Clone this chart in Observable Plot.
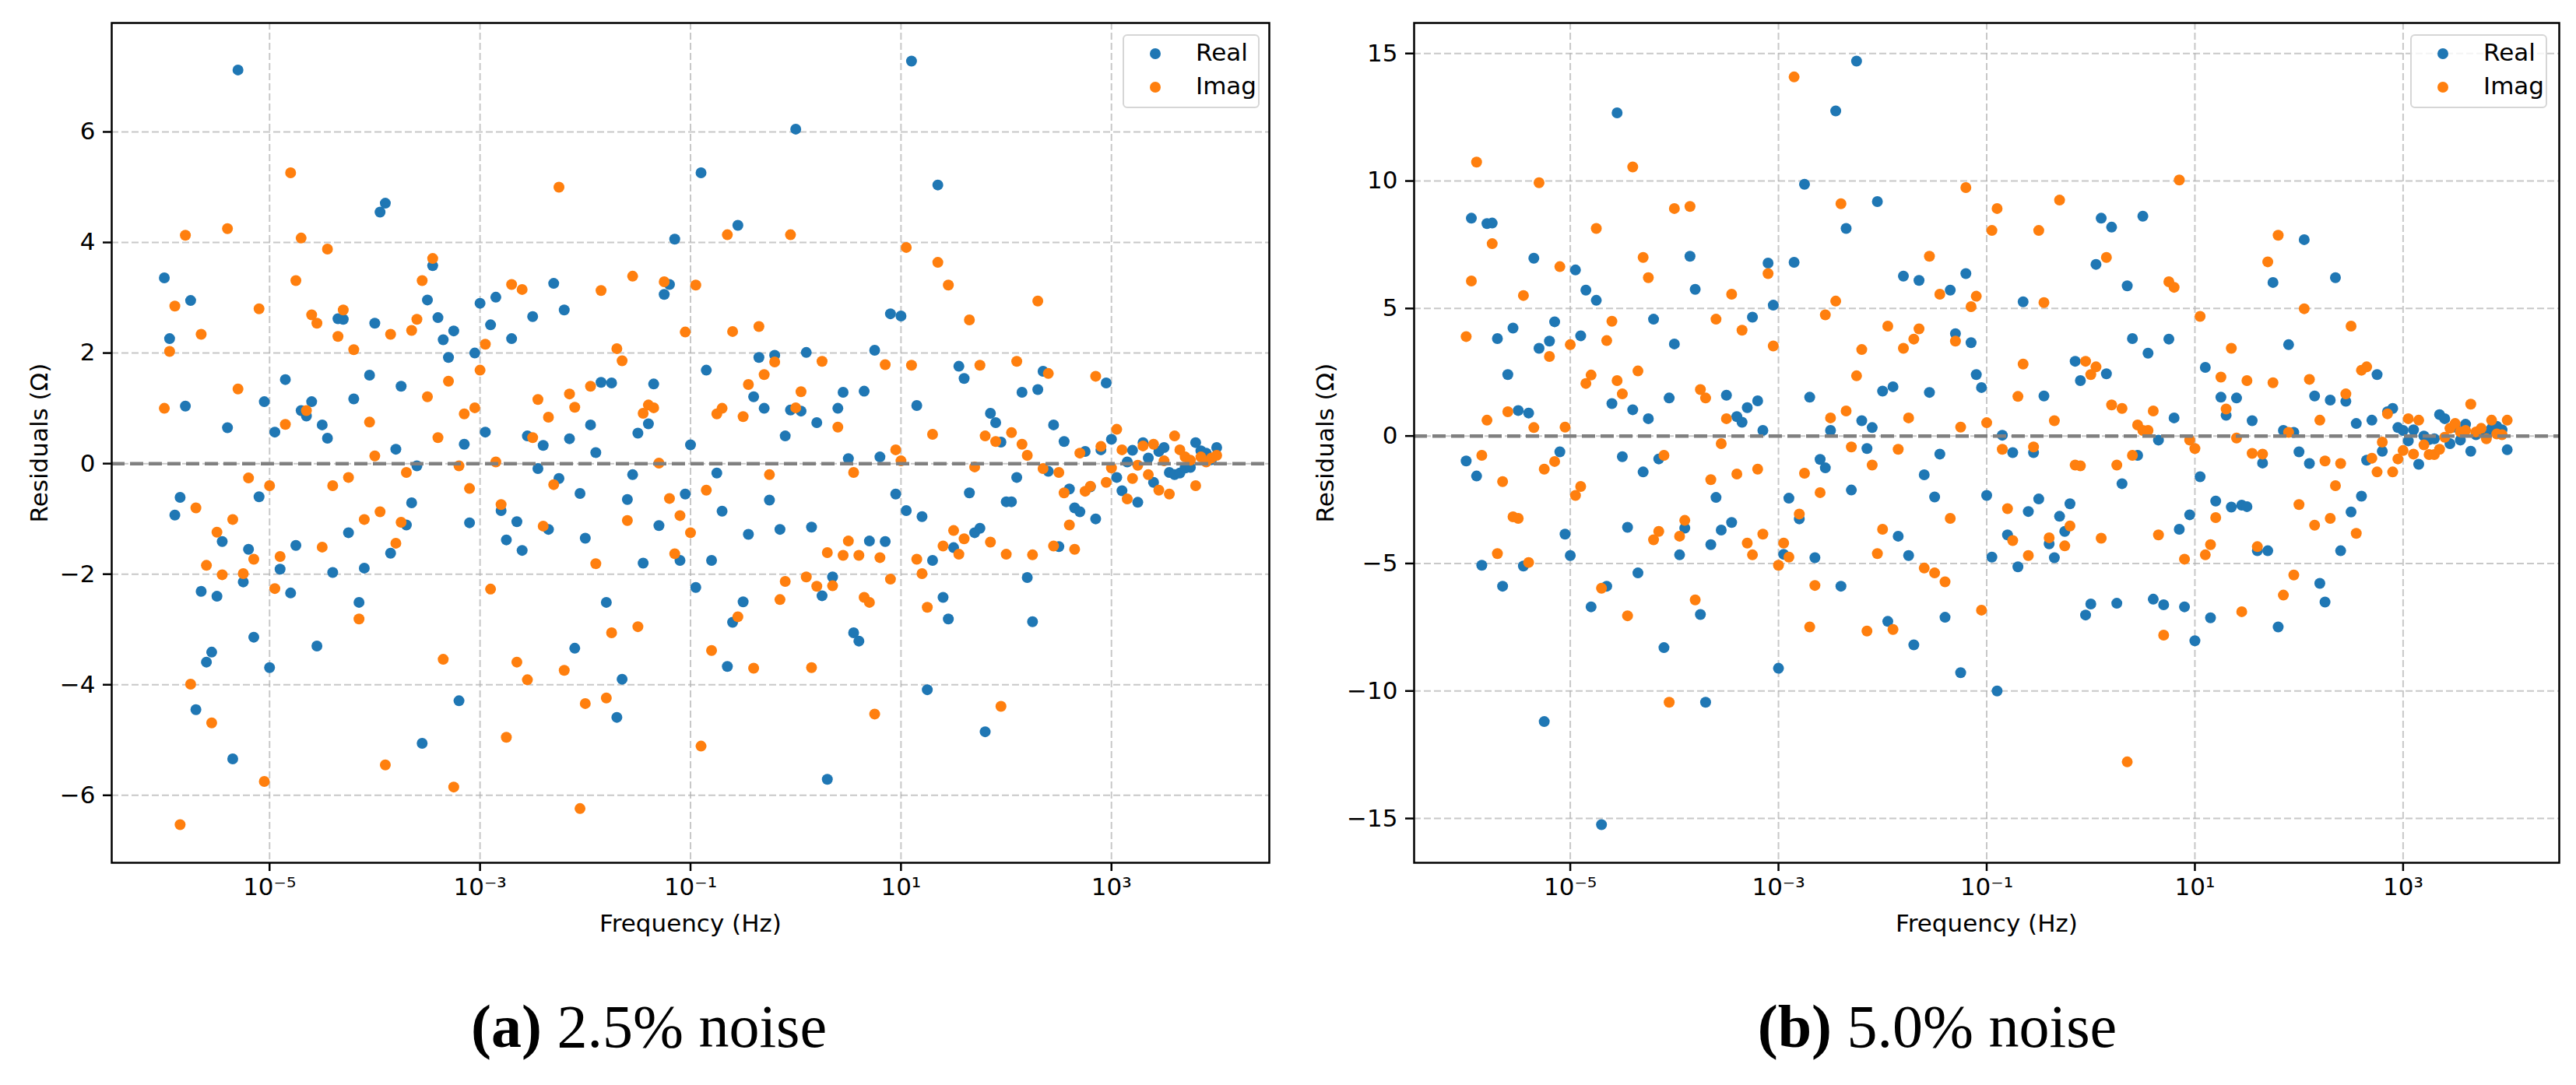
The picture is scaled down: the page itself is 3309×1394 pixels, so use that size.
<!DOCTYPE html>
<html>
<head>
<meta charset="utf-8">
<script src="https://cdn.jsdelivr.net/npm/d3@7"></script>
<script src="https://cdn.jsdelivr.net/npm/@observablehq/plot@0.6"></script>
<style>
  body { margin: 0; background: white; }
  #fig { position: relative; width: 3309px; height: 1394px; background: white; overflow: hidden; }
  .panel { position: absolute; top: 0; width: 1655px; height: 1240px; }
  .legend {
    position: absolute; box-sizing: border-box; height: 95px;
    border: 2px solid #d6d6d6; border-radius: 6px; background: rgba(255,255,255,0.8);
    font-family: "DejaVu Sans", sans-serif; font-size: 31px;
  }
  .legend .marker { position: absolute; width: 14px; height: 14px; border-radius: 50%; }
  .legend .name { position: absolute; line-height: 31px; }
  .caption {
    position: absolute; top: 1280px; width: 1655px; text-align: center;
    font-family: "Liberation Serif", "DejaVu Serif", serif; font-size: 78px; line-height: 78px;
  }
</style>
</head>
<body>
<div id="fig">
  <div class="panel" id="panel_a" style="left:0px"></div>
  <div class="panel" id="panel_b" style="left:1655px"></div>
  <div class="caption" style="left:6px"><b>(a)</b> 2.5% noise</div>
  <div class="caption" style="left:1661px"><b>(b)</b> 5.0% noise</div>
</div>
<script>
// log10 of the frequency (Hz), 20 points per decade
const logFreq = [
  -6.00,-5.95,-5.90,-5.85,-5.80,-5.75,-5.70,-5.65,-5.60,-5.55,
  -5.50,-5.45,-5.40,-5.35,-5.30,-5.25,-5.20,-5.15,-5.10,-5.05,
  -5.00,-4.95,-4.90,-4.85,-4.80,-4.75,-4.70,-4.65,-4.60,-4.55,
  -4.50,-4.45,-4.40,-4.35,-4.30,-4.25,-4.20,-4.15,-4.10,-4.05,
  -4.00,-3.95,-3.90,-3.85,-3.80,-3.75,-3.70,-3.65,-3.60,-3.55,
  -3.50,-3.45,-3.40,-3.35,-3.30,-3.25,-3.20,-3.15,-3.10,-3.05,
  -3.00,-2.95,-2.90,-2.85,-2.80,-2.75,-2.70,-2.65,-2.60,-2.55,
  -2.50,-2.45,-2.40,-2.35,-2.30,-2.25,-2.20,-2.15,-2.10,-2.05,
  -2.00,-1.95,-1.90,-1.85,-1.80,-1.75,-1.70,-1.65,-1.60,-1.55,
  -1.50,-1.45,-1.40,-1.35,-1.30,-1.25,-1.20,-1.15,-1.10,-1.05,
  -1.00,-0.95,-0.90,-0.85,-0.80,-0.75,-0.70,-0.65,-0.60,-0.55,
  -0.50,-0.45,-0.40,-0.35,-0.30,-0.25,-0.20,-0.15,-0.10,-0.05,
   0.00, 0.05, 0.10, 0.15, 0.20, 0.25, 0.30, 0.35, 0.40, 0.45,
   0.50, 0.55, 0.60, 0.65, 0.70, 0.75, 0.80, 0.85, 0.90, 0.95,
   1.00, 1.05, 1.10, 1.15, 1.20, 1.25, 1.30, 1.35, 1.40, 1.45,
   1.50, 1.55, 1.60, 1.65, 1.70, 1.75, 1.80, 1.85, 1.90, 1.95,
   2.00, 2.05, 2.10, 2.15, 2.20, 2.25, 2.30, 2.35, 2.40, 2.45,
   2.50, 2.55, 2.60, 2.65, 2.70, 2.75, 2.80, 2.85, 2.90, 2.95,
   3.00, 3.05, 3.10, 3.15, 3.20, 3.25, 3.30, 3.35, 3.40, 3.45,
   3.50, 3.55, 3.60, 3.65, 3.70, 3.75, 3.80, 3.85, 3.90, 3.95,
   4.00
];

// (a) 2.5% noise
const real_a = [
  3.36,2.26,-0.93,-0.61,1.04,2.95,-4.45,-2.31,-3.59,-3.41,
  -2.4,-1.41,0.65,-5.34,7.12,-2.14,-1.55,-3.14,-0.6,1.12,
  -3.69,0.57,-1.91,1.52,-2.34,-1.48,0.96,0.86,1.12,-3.3,
  0.7,0.46,-1.97,2.62,2.61,-1.25,1.17,-2.51,-1.89,1.6,
  2.54,4.55,4.71,-1.62,0.26,1.4,-1.11,-0.71,-0.04,-5.06,
  2.96,3.58,2.64,2.24,1.92,2.4,-4.29,0.35,-1.07,2.0,
  2.9,0.57,2.51,3.01,-0.85,-1.38,2.26,-1.05,-1.57,0.5,
  2.66,-0.09,0.33,-1.19,3.26,-0.27,2.78,0.45,-3.34,-0.54,
  -1.35,0.7,0.2,1.47,-2.51,1.46,-4.59,-3.9,-0.65,-0.2,
  0.55,-1.8,0.72,1.44,-1.12,3.06,3.24,4.06,-1.75,-0.55,
  0.34,-2.24,5.26,1.69,-1.75,-0.17,-0.86,-3.67,-2.87,4.31,
  -2.5,-1.28,1.21,1.92,1.0,-0.66,1.96,-1.19,0.5,0.97,
  6.05,0.95,2.01,-1.15,0.74,-2.39,-5.71,-2.05,1.0,1.29,
  0.09,-3.06,-3.21,1.31,-1.4,2.05,0.12,-1.41,2.71,-0.55,
  2.67,-0.85,7.28,1.05,-0.96,-4.09,-1.75,5.04,-2.42,-2.81,
  -1.52,1.76,1.54,-0.53,-1.25,-1.17,-4.85,0.91,0.74,0.39,
  -0.69,-0.69,-0.25,1.29,-2.06,-2.86,1.34,1.67,-0.14,0.7,
  -1.5,0.4,-0.46,-0.8,-0.87,0.22,-0.42,-1.0,0.25,1.46,
  0.44,-0.25,-0.49,0.03,0.24,-0.7,0.38,0.1,-0.34,0.22,
  0.29,-0.16,-0.2,-0.17,-0.08,-0.07,0.38,0.23,0.19,0.07,
  0.29
];
const imag_a = [
  1.0,2.03,2.85,-6.53,4.13,-3.99,-0.8,2.34,-1.84,-4.69,
  -1.24,-2.01,4.25,-1.01,1.35,-1.99,-0.26,-1.73,2.8,-5.75,
  -0.4,-2.26,-1.68,0.71,5.26,3.31,4.08,0.96,2.69,2.54,
  -1.51,3.88,-0.4,2.3,2.78,-0.25,2.06,-2.81,-1.01,0.75,
  0.14,-0.87,-5.45,2.34,-1.44,-1.06,-0.16,2.41,2.61,3.31,
  1.21,3.71,0.47,-3.54,1.49,-5.85,-0.04,0.9,-0.45,1.01,
  1.69,2.16,-2.27,0.03,-0.74,-4.95,3.24,-3.59,3.15,-3.91,
  0.47,1.16,-1.13,0.84,-0.38,5.0,-3.74,1.26,1.02,-6.24,
  -4.34,1.4,-1.81,3.13,-4.24,-3.06,2.08,1.86,-1.03,3.39,
  -2.95,0.91,1.06,1.01,0.01,3.29,-0.63,-1.63,-0.94,2.38,
  -1.25,3.23,-5.11,-0.48,-3.38,0.9,1.0,4.14,2.39,-2.77,
  0.85,1.43,-3.7,2.48,1.61,-0.2,1.84,-2.46,-2.13,4.14,
  1.01,1.3,-2.05,-3.69,-2.22,1.85,-1.61,-2.21,0.66,-1.66,
  -1.4,-0.16,-1.66,-2.42,-2.51,-4.53,-1.7,1.79,-2.09,0.25,
  0.05,3.91,1.78,-1.73,-1.99,-2.6,0.53,3.64,-1.49,3.23,
  -1.21,-1.64,-1.36,2.6,-0.06,1.78,0.5,-1.42,0.4,-4.39,
  -1.64,0.56,1.85,0.35,0.15,-1.65,2.94,-0.09,1.63,-1.49,
  -0.16,-0.53,-1.11,-1.55,0.19,-0.5,-0.41,1.58,0.31,-0.34,
  -0.08,0.62,0.25,-0.64,-0.27,-0.03,0.32,-0.2,0.35,-0.48,
  0.05,-0.55,0.5,0.25,0.12,0.06,-0.4,0.12,0.03,0.1,
  0.15
];

// (b) 5.0% noise
const real_b = [
  -0.98,8.54,-1.57,-5.07,8.33,8.35,3.82,-5.89,2.41,4.23,
  1.0,-5.1,0.9,6.97,3.44,-11.2,3.72,4.48,-0.62,-3.85,
  -4.69,6.51,3.93,5.72,-6.7,5.32,-15.24,-5.89,1.27,12.67,
  -0.81,-3.58,1.03,-5.37,-1.41,0.68,4.58,-0.9,-8.3,1.49,
  3.61,-4.66,-3.61,7.05,5.75,-7.0,-10.44,-4.26,-2.41,-3.69,
  1.6,-3.39,0.76,0.54,1.11,4.66,1.38,0.22,6.78,5.13,
  -9.11,-4.64,-2.44,6.81,-3.25,9.87,1.52,-4.77,-0.92,-1.25,
  0.22,12.75,-5.89,8.14,-2.12,14.7,0.6,-0.49,0.33,9.19,
  1.76,-7.27,1.93,-3.93,6.27,-4.69,-8.19,6.1,-1.52,1.71,
  -2.39,-0.71,-7.11,5.72,4.01,-9.28,6.37,3.66,2.41,1.9,
  -2.33,-4.75,-10.0,0.03,-3.88,-0.65,-5.13,5.26,-2.96,-0.65,
  -2.47,1.57,-4.23,-4.77,-3.15,-3.74,-2.66,2.93,2.17,-7.02,
  -6.59,6.73,8.54,2.44,8.19,-6.56,-1.87,5.89,3.82,-0.76,
  8.62,3.25,-6.4,-0.16,-6.62,3.8,0.71,-3.66,-6.7,-3.09,
  -8.03,-1.6,2.69,-7.13,-2.55,1.52,0.81,-2.79,1.49,-2.71,
  -2.77,0.6,-4.5,-1.06,-4.5,6.02,-7.49,0.22,3.58,0.14,
  -0.62,7.7,-1.08,1.57,-5.78,-6.51,1.41,6.21,-4.5,1.36,
  -2.98,0.49,-2.36,-0.95,0.62,2.41,-0.6,0.95,1.08,0.33,
  0.22,-0.19,0.24,-1.11,0.0,-0.14,-0.11,0.84,0.68,-0.3,
  0.35,-0.16,0.46,-0.6,0.05,0.15,0.05,0.3,0.38,0.24,
  -0.54
];
const imag_b = [
  3.9,6.08,10.74,-0.76,0.62,7.54,-4.61,-1.79,0.95,-3.17,
  -3.23,5.51,-4.96,0.33,9.93,-1.3,3.12,-1.0,6.64,0.35,
  3.58,-2.33,-1.98,2.06,2.39,8.14,-5.97,3.74,4.5,2.17,
  1.65,-7.05,10.55,2.55,7.0,6.21,-4.07,-3.74,-0.76,-10.44,
  8.92,-3.93,-3.31,9.0,-6.43,1.82,1.49,-1.71,4.58,-0.3,
  0.68,5.56,-1.49,4.15,-4.2,-4.66,-1.3,-3.85,6.37,3.53,
  -5.07,-4.2,-4.75,14.08,-3.06,-1.46,-7.49,-5.86,-2.22,4.75,
  0.71,5.29,9.11,0.98,-0.43,2.36,3.39,-7.65,-1.14,-4.61,
  -3.66,4.31,-7.59,-0.52,3.44,0.71,3.8,4.2,-5.18,7.05,
  -5.37,5.56,-5.72,-3.23,3.72,0.35,9.74,5.07,5.48,-6.83,
  0.52,8.06,8.92,-0.52,-2.85,-4.1,1.55,2.82,-4.69,-0.43,
  8.06,5.23,-3.99,0.6,9.25,-4.31,-3.53,-1.14,-1.17,2.93,
  2.41,2.71,-4.01,7.0,1.22,-1.14,1.08,-12.78,-0.76,0.43,
  0.22,0.22,0.98,-3.88,-7.81,6.05,5.83,10.04,-4.83,-0.16,
  -0.49,4.69,-4.66,-4.26,-3.2,2.31,1.06,3.44,-0.08,-6.89,
  2.17,-0.68,-4.34,-0.71,6.83,2.09,7.87,-6.24,0.14,-5.45,
  -2.69,4.99,2.22,-3.5,0.62,-0.98,-3.23,-1.95,-1.08,1.65,
  4.31,-3.82,2.58,2.71,-0.87,-1.41,-0.24,0.87,-1.41,-0.9,
  -0.57,0.68,-0.71,0.62,-0.35,-0.73,-0.73,-0.52,-0.05,0.3,
  0.49,0.16,0.22,1.25,0.16,0.3,-0.11,0.62,0.08,0.05,
  0.62
];

const xTicks = [1e-5, 1e-3, 1e-1, 1e1, 1e3];
const xTickLabels = ["10⁻⁵", "10⁻³", "10⁻¹", "10¹", "10³"];
const yTicks_a = [-6, -4, -2, 0, 2, 4, 6];
const yTicks_b = [-15, -10, -5, 0, 5, 10, 15];
const seriesNames = ["Real", "Imag"];
const colors = { Real: "#1f77b4", Imag: "#ff7f0e" };

// matplotlib-like 5% margin around the data extent
function padded(extent, pad = 0.05) {
  const m = (extent[1] - extent[0]) * pad;
  return [extent[0] - m, extent[1] + m];
}

function minus(d) {
  return d < 0 ? "\u2212" + Math.abs(d) : String(d);
}

function draw_legend(targetElement, { right = 12 } = {}) {
  const box = document.createElement("div");
  box.className = "legend";
  box.style.right = right + "px";
  box.style.top = "44px";
  box.style.width = "176px";
  seriesNames.forEach((name, i) => {
    const m = document.createElement("span");
    m.className = "marker";
    m.style.background = colors[name];
    m.style.left = "33px";
    m.style.top = 16 + i * 43 + "px";
    const t = document.createElement("span");
    t.className = "name";
    t.textContent = name;
    t.style.left = "92px";
    t.style.top = 6 + i * 43 + "px";
    box.appendChild(m);
    box.appendChild(t);
  });
  targetElement.appendChild(box);
}

function residuals_plot(
  targetElement,
  real,
  imag,
  { yTicks, marginLeft = 143, marginRight = 25, yLabelOffset = 105, legendRight = 37 } = {},
) {
  const rows = logFreq.map((lf, i) => ({ f: 10 ** lf, real: real[i], imag: imag[i] }));
  const xDomain = padded(d3.extent(logFreq)).map((d) => 10 ** d);
  const yDomain = padded(d3.extent([...real, ...imag]));

  const gridStyle = {
    stroke: "#b0b0b0",
    strokeOpacity: 0.7,
    strokeWidth: 2,
    strokeDasharray: "9,4",
  };

  const plot = Plot.plot({
    width: 1655,
    height: 1230,
    marginLeft,
    marginRight,
    marginTop: 29,
    marginBottom: 122,
    style: { fontFamily: "DejaVu Sans", fontSize: "31px", background: "white" },
    x: { type: "log", domain: xDomain },
    y: { domain: yDomain },
    marks: [
      Plot.gridX(xTicks, gridStyle),
      Plot.gridY(yTicks, gridStyle),
      Plot.dot(rows, { x: "f", y: "real", fill: colors.Real, r: 7 }),
      Plot.dot(rows, { x: "f", y: "imag", fill: colors.Imag, r: 7 }),
      Plot.ruleY([0], { stroke: "#808080", strokeWidth: 4.5, strokeDasharray: "17,7" }),
      Plot.axisX(xTicks, {
        tickSize: 11,
        tickPadding: 8,
        strokeWidth: 2.5,
        fontSize: 31,
        tickFormat: (d) => xTickLabels[xTicks.indexOf(d)],
        label: "Frequency (Hz)",
        labelAnchor: "center",
        labelArrow: "none",
        labelOffset: 88,
      }),
      Plot.axisY(yTicks, {
        tickSize: 11,
        tickPadding: 10,
        strokeWidth: 2.5,
        fontSize: 31,
        tickFormat: minus,
        label: "Residuals (Ω)",
        labelAnchor: "center",
        labelArrow: "none",
        labelOffset: yLabelOffset,
      }),
      Plot.frame({ stroke: "black", strokeWidth: 2.5 }),
    ],
  });

  targetElement.innerHTML = "";
  targetElement.appendChild(plot);
  draw_legend(targetElement, { right: legendRight });
}

residuals_plot(document.getElementById("panel_a"), real_a, imag_a, {
  yTicks: yTicks_a,
  marginLeft: 143,
  marginRight: 25,
  yLabelOffset: 105,
  legendRight: 37,
});
residuals_plot(document.getElementById("panel_b"), real_b, imag_b, {
  yTicks: yTicks_b,
  marginLeft: 161,
  marginRight: 23,
  yLabelOffset: 126,
  legendRight: 38,
});
</script>
</body>
</html>
